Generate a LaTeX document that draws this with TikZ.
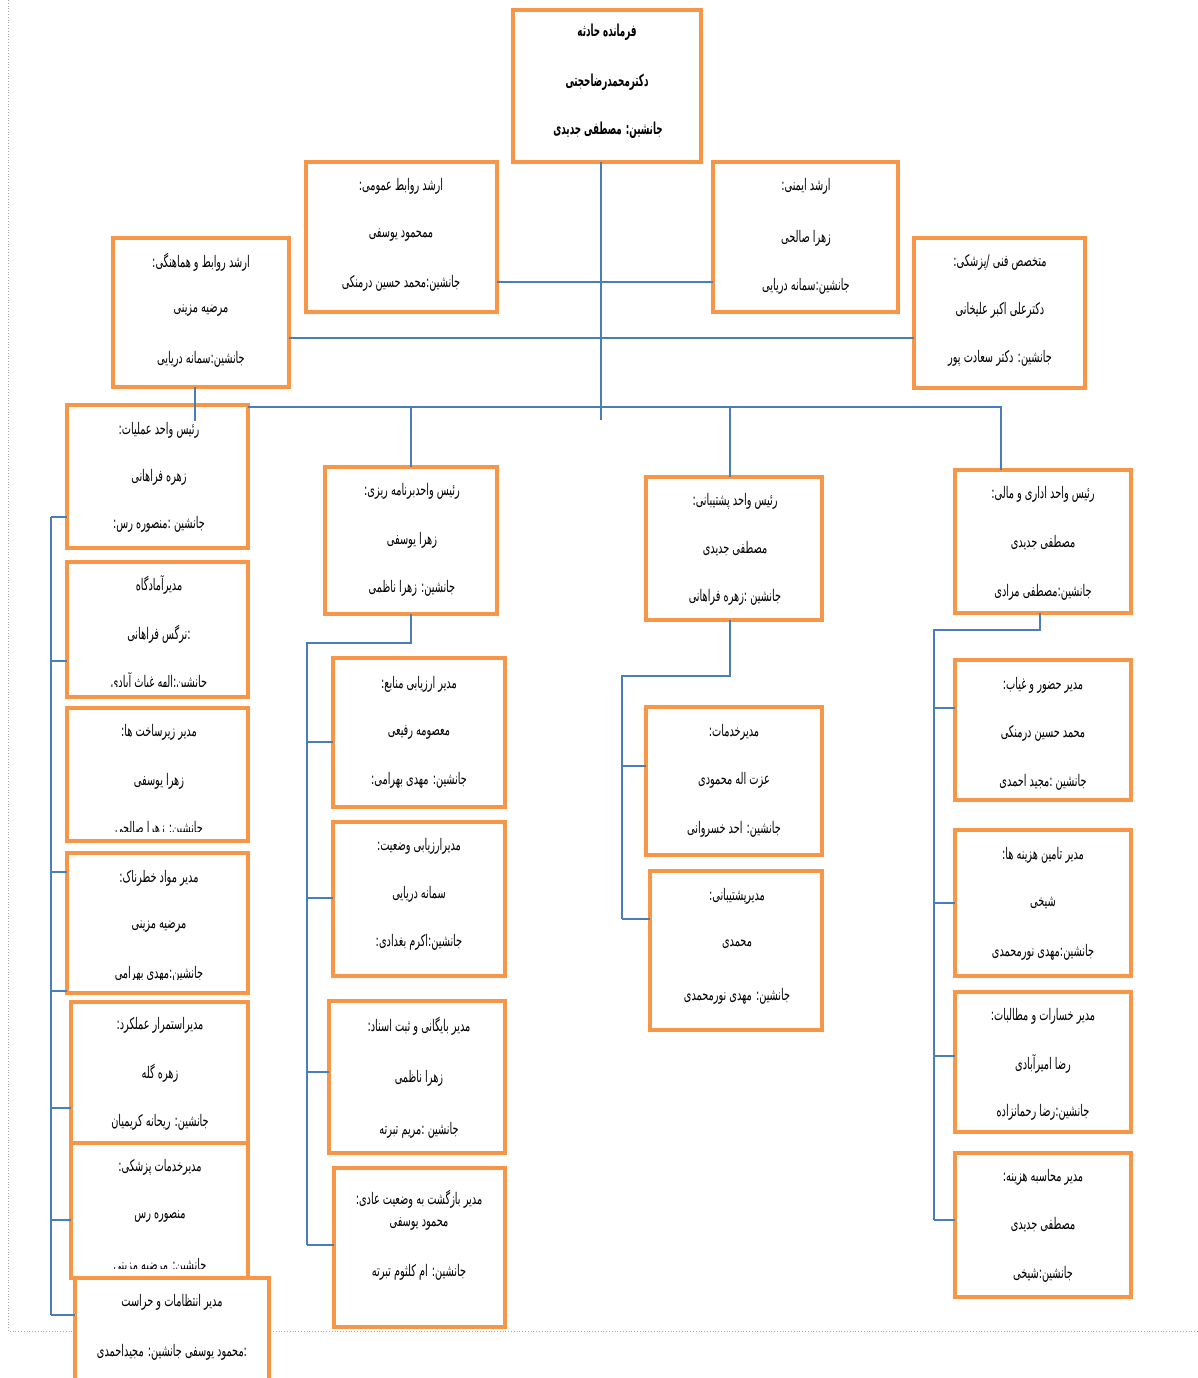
\documentclass[tikz,border=0pt]{standalone}
\usepackage{fontspec}
\TeXXeTstate=1
\newfontfamily\arfont[Script=Arabic,FakeStretch=0.61]{DejaVu Sans}
\newfontfamily\arbold[Script=Arabic,FakeStretch=0.53]{DejaVu Sans Bold}
\definecolor{boxorange}{HTML}{F79646}
\definecolor{linkblue}{HTML}{4A7EBB}
\tikzset{
  obox/.style={draw=boxorange, line width=3.2pt, fill=white, rectangle, inner sep=0pt, outer sep=0pt},
  txt/.style={inner sep=0pt, font=\arfont\fontsize{16}{18}\selectfont, text=black},
  btxt/.style={inner sep=0pt, font=\arbold\fontsize{16.5}{18}\selectfont, text=black},
  conn/.style={draw=linkblue, line width=1.4pt},
  frame/.style={draw=gray!70, dotted, line width=0.8pt}
}
% box: name, x1, y1, x2, y2
\newcommand\obx[5]{\node[obox, minimum width={(#4-#2)*1pt}, minimum height={(#5-#3)*1pt}] (#1) at ({(#2+#4)/2},{(#3+#5)/2}) {};}
% text line: name, x, y, text
\newcommand\tln[4]{\node[txt] (#1) at (#2,#3) {#4};}
\begin{document}
\begin{tikzpicture}[x=1pt,y=-1pt]
\useasboundingbox (0,0) rectangle (1198,1378);
\clip (0,0) rectangle (1198,1378);
\fill[white] (0,0) rectangle (1198,1378);
% page frame
\coordinate (fa) at (8,0);
\coordinate (fb) at (8,1331);
\coordinate (fc) at (1198,1331);
\draw[frame] (fa) -- (fb) -- (fc);

% ---------- boxes ----------
\obx{cmd}{513}{10}{701}{162}
\obx{pr}{306}{162}{497}{312}
\obx{saf}{713}{162}{898}{312}
\obx{coord}{113}{238}{289}{387}
\obx{med}{914}{238}{1085}{388}
\obx{ops}{67}{405}{248}{548}
\obx{prep}{67}{562}{248}{697}
\obx{infra}{67}{708}{248}{841}
\obx{haz}{67}{853}{248}{993}
\obx{cont}{71}{1002}{248}{1143}
\obx{mdsv}{71}{1143}{248}{1278}
\obx{sec}{75}{1278}{269}{1400}
\obx{plan}{325}{467}{497}{614}
\obx{res}{333}{658}{505}{807}
\obx{sit}{333}{822}{505}{976}
\obx{arc}{329}{1001}{505}{1153}
\obx{rec}{334}{1168}{505}{1327}
\obx{sup}{646}{477}{822}{620}
\obx{svc}{646}{707}{822}{855}
\obx{log}{650}{871}{822}{1030}
\obx{fin}{955}{470}{1131}{613}
\obx{att}{955}{660}{1131}{800}
\obx{fund}{955}{830}{1131}{976}
\obx{loss}{955}{992}{1131}{1132}
\obx{cost}{955}{1153}{1131}{1297}

% ---------- texts ----------
\node[btxt] (cmd1) at (607,32) {\beginR فرمانده حادثه\endR};
\node[btxt] (cmd2) at (607,82) {\beginR دکترمحمدرضاحجتی\endR};
\node[btxt] (cmd3) at (608,130) {\beginR جانشین: مصطفی جدیدی\endR};

\tln{pr1}{401}{186}{\beginR ارشد روابط عمومی:\endR}
\tln{pr2}{401}{235}{\beginR ممحمود یوسفی\endR}
\tln{pr3}{401}{283}{\beginR جانشین:محمد حسین درمنکی\endR}

\tln{saf1}{806}{186}{\beginR ارشد ایمنی:\endR}
\tln{saf2}{806}{238}{\beginR زهرا صالحی\endR}
\tln{saf3}{806}{286}{\beginR جانشین:سمانه دریایی\endR}

\tln{coord1}{201}{262}{\beginR ارشد روابط و هماهنگی:\endR}
\tln{coord2}{201}{311}{\beginR مرضیه مزینی\endR}
\tln{coord3}{201}{359}{\beginR جانشین:سمانه دریایی\endR}

\tln{med1}{1000}{262}{\beginR متخصص فنی /پزشکی:\endR}
\tln{med2}{1000}{310}{\beginR دکترعلی اکبر علیخانی\endR}
\tln{med3}{1000}{358}{\beginR جانشین: دکتر سعادت پور\endR}

\tln{ops1}{159}{430}{\beginR رئیس واحد عملیات:\endR}
\tln{ops2}{159}{477}{\beginR زهره فراهانی\endR}
\tln{ops3}{159}{524}{\beginR جانشین :منصوره رس:\endR}

\tln{prep1}{159}{585}{\beginR مدیرآمادگاه\endR}
\tln{prep2}{159}{634}{\beginR :نرگس فراهانی\endR}
\begin{scope}
\clip (67,562) rectangle (248,686);
\tln{prep3}{159}{682}{\beginR جانشین:الهه غیاث آبادی\endR}
\end{scope}

\tln{infra1}{159}{732}{\beginR مدیر زیرساخت ها:\endR}
\tln{infra2}{159}{781}{\beginR زهرا یوسفی\endR}
\begin{scope}
\clip (67,708) rectangle (248,831);
\tln{infra3}{159}{829}{\beginR جانشین: زهرا صالحی\endR}
\end{scope}

\tln{haz1}{159}{878}{\beginR مدیر مواد خطرناک:\endR}
\tln{haz2}{159}{927}{\beginR مرضیه مزینی\endR}
\begin{scope}
\clip (67,853) rectangle (248,979);
\tln{haz3}{159}{974}{\beginR جانشین:مهدی بهرامی\endR}
\end{scope}

\tln{cont1}{160}{1025}{\beginR مدیراستمرار عملکرد:\endR}
\tln{cont2}{160}{1073}{\beginR زهره گله\endR}
\tln{cont3}{160}{1122}{\beginR جانشین: ریحانه کریمیان\endR}

\tln{mdsv1}{160}{1167}{\beginR مدیرخدمات پزشکی:\endR}
\tln{mdsv2}{160}{1217}{\beginR منصوره رس\endR}
\begin{scope}
\clip (71,1143) rectangle (248,1268);
\tln{mdsv3}{160}{1266}{\beginR جانشین: مرضیه مزینی\endR}
\end{scope}

\tln{sec1}{172}{1302}{\beginR مدیر انتظامات و حراست\endR}
\tln{sec2}{172}{1352}{\beginR :محمود یوسفی جانشین: مجیداحمدی\endR}

\tln{plan1}{412}{491}{\beginR رئیس واحدبرنامه ریزی:\endR}
\tln{plan2}{412}{540}{\beginR زهرا یوسفی\endR}
\tln{plan3}{412}{588}{\beginR جانشین: زهرا ناظمی\endR}

\tln{res1}{419}{684}{\beginR مدیر ارزیابی منابع:\endR}
\tln{res2}{419}{732}{\beginR معصومه رفیعی\endR}
\tln{res3}{419}{780}{\beginR جانشین: مهدی بهرامی:\endR}

\tln{sit1}{419}{846}{\beginR مدیرارزیابی وضعیت:\endR}
\tln{sit2}{419}{894}{\beginR سمانه دریایی\endR}
\tln{sit3}{419}{942}{\beginR جانشین:اکرم بغدادی:\endR}

\tln{arc1}{419}{1026}{\beginR مدیر بایگانی و ثبت اسناد:\endR}
\tln{arc2}{419}{1078}{\beginR زهرا ناظمی\endR}
\tln{arc3}{419}{1130}{\beginR جانشین :مریم تبرته\endR}

\tln{rec1}{419}{1199}{\beginR مدیر بازگشت به وضعیت عادی:\endR}
\tln{rec2}{419}{1224}{\beginR محمود یوسفی\endR}
\tln{rec3}{419}{1272}{\beginR جانشین: ام کلثوم تبرته\endR}

\tln{sup1}{735}{501}{\beginR رئیس واحد پشتیبانی:\endR}
\tln{sup2}{735}{549}{\beginR مصطفی جدیدی\endR}
\tln{sup3}{735}{597}{\beginR جانشین :زهره فراهانی\endR}

\tln{svc1}{734}{732}{\beginR مدیرخدمات:\endR}
\tln{svc2}{734}{780}{\beginR عزت اله محمودی\endR}
\tln{svc3}{734}{829}{\beginR جانشین: احد خسروانی\endR}

\tln{log1}{737}{896}{\beginR مدیرپشتیبانی:\endR}
\tln{log2}{737}{944}{\beginR محمدی\endR}
\tln{log3}{737}{996}{\beginR جانشین: مهدی نورمحمدی\endR}

\tln{fin1}{1043}{494}{\beginR رئیس واحد اداری و مالی:\endR}
\tln{fin2}{1043}{543}{\beginR مصطفی جدیدی\endR}
\tln{fin3}{1043}{592}{\beginR جانشین:مصطفی مرادی\endR}

\tln{att1}{1043}{685}{\beginR مدیر حضور و غیاب:\endR}
\tln{att2}{1043}{733}{\beginR محمد حسین درمنکی\endR}
\begin{scope}
\clip (955,660) rectangle (1131,789);
\tln{att3}{1043}{782}{\beginR جانشین :مجید احمدی\endR}
\end{scope}

\tln{fund1}{1043}{855}{\beginR مدیر تامین هزینه ها:\endR}
\tln{fund2}{1043}{903}{\beginR شیخی\endR}
\tln{fund3}{1043}{952}{\beginR جانشین:مهدی نورمحمدی\endR}

\tln{loss1}{1043}{1016}{\beginR مدیر خسارات و مطالبات:\endR}
\tln{loss2}{1043}{1064}{\beginR رضا امیرآبادی\endR}
\tln{loss3}{1043}{1112}{\beginR جانشین:رضا رحمانزاده\endR}

\tln{cost1}{1043}{1177}{\beginR مدیر محاسبه هزینه:\endR}
\tln{cost2}{1043}{1225}{\beginR مصطفی جدیدی\endR}
\tln{cost3}{1043}{1274}{\beginR جانشین:شیخی\endR}

% ---------- connectors ----------
\coordinate (trunk) at (601,420);
\draw[conn] (trunk |- cmd.south) -- (trunk);
\draw[conn] (pr.east |- 0,282) -- (saf.west |- 0,282);
\draw[conn] (coord.east |- 0,338) -- (med.west |- 0,338);
\coordinate (optick) at (195,421);
\draw[conn] (optick |- coord.south) -- (optick);
\coordinate (h3r) at (1001,407);
\draw[conn] (ops.east |- h3r) -- (h3r) -- (h3r |- fin.north);
\draw[conn] (plan.north |- h3r) -- (plan.north);
\coordinate (supdrop) at (730,407);
\draw[conn] (supdrop) -- (supdrop |- sup.north);

% column 1 bus
\coordinate (b1top) at (51,517);
\coordinate (b1bot) at (51,1315);
\draw[conn] (b1top) -- (b1bot);
\draw[conn] (b1top) -- (ops.west |- b1top);
\draw[conn] (51,661) -- (prep.west |- 0,661);
\draw[conn] (51,872) -- (haz.west |- 0,872);
\draw[conn] (51,991) -- (haz.west |- 0,991);
\draw[conn] (51,1108) -- (cont.west |- 0,1108);
\draw[conn] (51,1220) -- (mdsv.west |- 0,1220);
\draw[conn] (b1bot) -- (sec.west |- b1bot);

% column 2 bus
\coordinate (b2a) at (411,643);
\coordinate (b2b) at (307,643);
\coordinate (b2c) at (307,1245);
\draw[conn] (plan.south) -- (b2a) -- (b2b) -- (b2c);
\draw[conn] (307,742) -- (res.west |- 0,742);
\draw[conn] (307,898) -- (sit.west |- 0,898);
\draw[conn] (307,1072) -- (arc.west |- 0,1072);
\draw[conn] (b2c) -- (rec.west |- b2c);

% column 3 bus
\coordinate (b3a) at (730,676);
\coordinate (b3b) at (622,676);
\coordinate (b3c) at (622,919);
\draw[conn] (b3a |- sup.south) -- (b3a) -- (b3b) -- (b3c);
\draw[conn] (622,766) -- (svc.west |- 0,766);
\draw[conn] (b3c) -- (log.west |- b3c);

% column 4 bus
\coordinate (b4a) at (1040,630);
\coordinate (b4b) at (934,630);
\coordinate (b4c) at (934,1220);
\draw[conn] (b4a |- fin.south) -- (b4a) -- (b4b) -- (b4c);
\draw[conn] (934,708) -- (att.west |- 0,708);
\draw[conn] (934,903) -- (fund.west |- 0,903);
\draw[conn] (934,1056) -- (loss.west |- 0,1056);
\draw[conn] (b4c) -- (cost.west |- b4c);
\end{tikzpicture}
\end{document}
